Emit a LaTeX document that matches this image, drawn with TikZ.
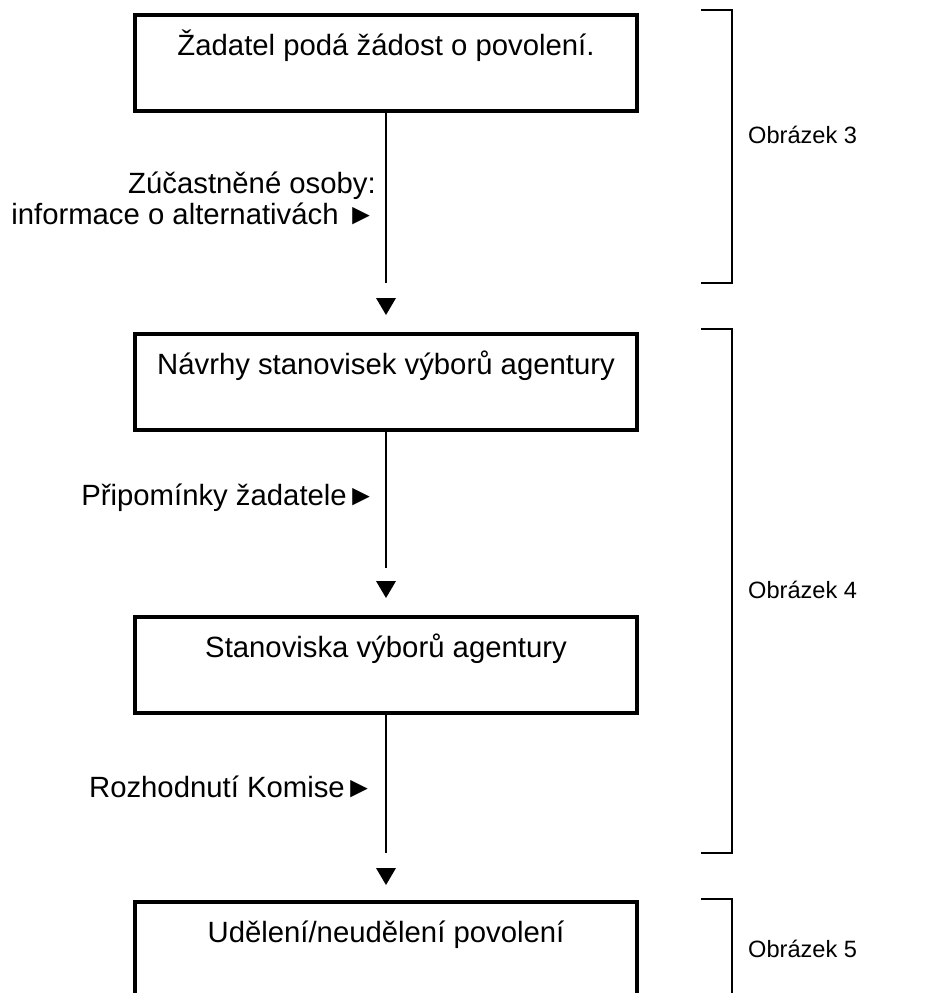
\documentclass[tikz,border=0pt]{standalone}
\usepackage{fontspec}
\setmainfont{Liberation Sans}
\begin{document}
\begin{tikzpicture}[x=1pt,y=-1pt,
  stagebox/.style={draw, line width=4.3pt, minimum width=502pt, inner xsep=0pt, inner ysep=0pt,
    text height=40pt, text depth=56pt, anchor=north, font=\fontsize{29.3}{33}\selectfont},
  flow/.style={line width=1.3pt},
  sidenote/.style={anchor=base east, align=right, inner sep=0pt, font=\fontsize{29.3}{31}\selectfont},
  bracketline/.style={line width=1.3pt},
  partlabel/.style={anchor=base west, inner sep=0pt, font=\fontsize{23.6}{28}\selectfont}]
\useasboundingbox (0,0) rectangle (940,993);
\fill[white] (0,0) rectangle (940,993);

% process stages
\node[stagebox] (b1) at (386,13)  {Žadatel podá žádost o povolení.};
\node[stagebox] (b2) at (386,332) {Návrhy stanovisek výborů agentury};
\node[stagebox] (b3) at (386,615) {Stanoviska výborů agentury};
\node[stagebox] (b4) at (386,900) {Udělení/neudělení povolení};

% line ends and arrow tips between stages
\coordinate (e1) at (386,283); \coordinate (t1) at (386,315);
\coordinate (e2) at (386,568); \coordinate (t2) at (386,598);
\coordinate (e3) at (386,853); \coordinate (t3) at (386,885);

\draw[flow] (b1.south) -- (e1);
\draw[flow] (b2.south) -- (e2);
\draw[flow] (b3.south) -- (e3);
\foreach \t in {t1,t2,t3}
  \fill (\t) -- ++(-10,-17) -- ++(20,0) -- cycle;

% inputs along the flow (base anchor sits on the last line)
\node[sidenote] (n1) at (376,224) {Zúčastněné osoby:\\informace o alternativách ►};
\node[sidenote] (n2) at (376,505) {Připomínky žadatele►};
\node[sidenote] (n3) at (374,797) {Rozhodnutí Komise►};

% brackets grouping the stages
\draw[bracketline] (701,10) -- (732,10) -- (732,283) -- (701,283);
\draw[bracketline] (701,329) -- (732,329) -- (732,853) -- (701,853);
\draw[bracketline] (701,899) -- (732,899) -- (732,1000);

\node[partlabel] (p3) at (748,143) {Obrázek 3};
\node[partlabel] (p4) at (748,598) {Obrázek 4};
\node[partlabel] (p5) at (748,957) {Obrázek 5};
\end{tikzpicture}
\end{document}
